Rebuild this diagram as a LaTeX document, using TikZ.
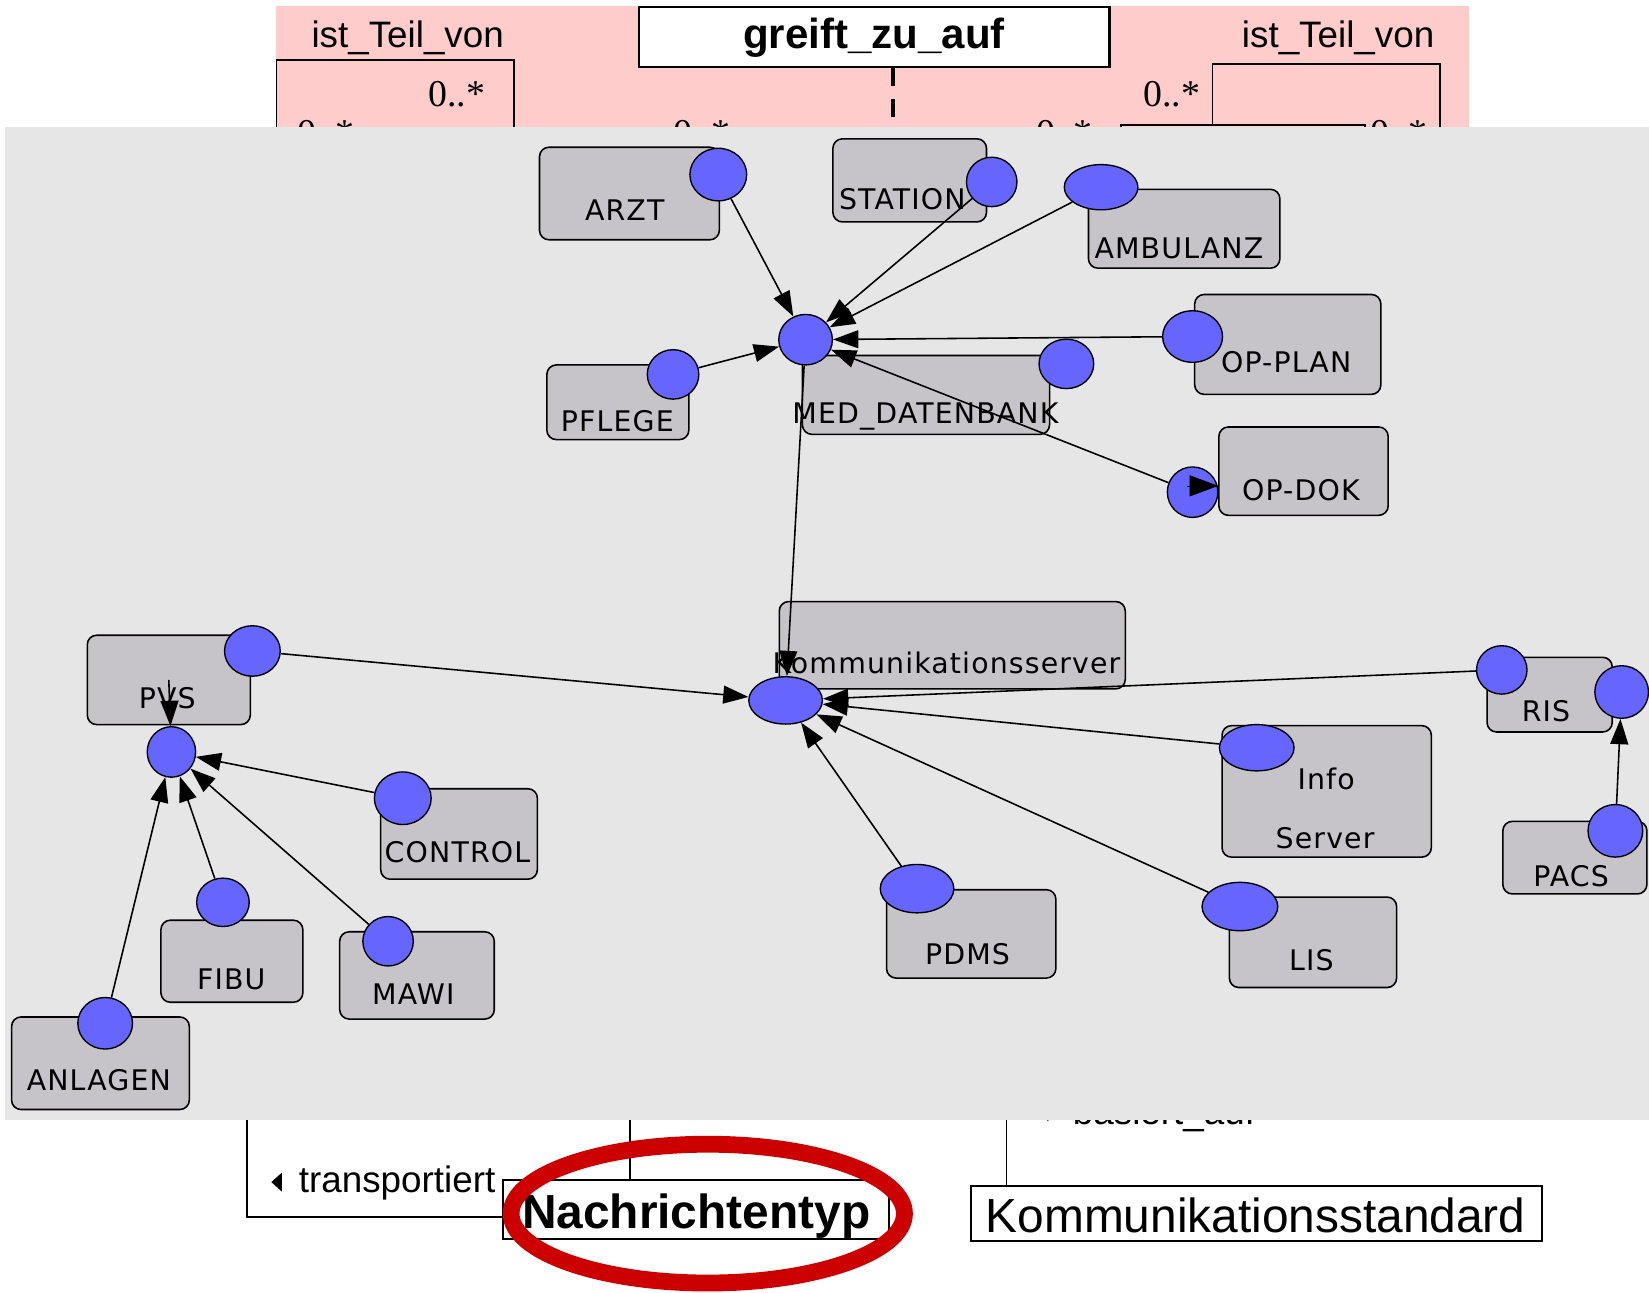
\documentclass[tikz,border=0pt]{standalone}
\usepackage{fontspec}
\setmainfont{Liberation Sans}
\newfontfamily\serifnum{Liberation Serif}
\newfontfamily\guifont[LetterSpace=4]{DejaVu Sans}
\usetikzlibrary{arrows.meta,shapes.geometric}

\definecolor{umlpink}{RGB}{255,204,204}
\definecolor{screengrey}{RGB}{230,230,230}
\definecolor{sysgrey}{RGB}{198,196,200}
\definecolor{portblue}{RGB}{102,102,255}
\definecolor{markred}{RGB}{204,0,0}

\begin{document}
\begin{tikzpicture}[x=1pt,y=-1pt,
  sysbox/.style={draw, line width=1.5pt, fill=sysgrey, rounded corners=9pt, inner sep=0pt},
  port/.style={ellipse, draw, line width=1.3pt, fill=portblue, inner sep=0pt},
  syslabel/.style={font=\guifont\fontsize{27}{32}\selectfont, anchor=base, inner sep=0pt},
  flow/.style={line width=1.5pt, -{Triangle[length=24pt,width=17pt]}},
  umlline/.style={line width=1.6pt},
  umlbox/.style={draw, line width=2pt, fill=white, inner sep=0pt},
  mult/.style={font=\serifnum\fontsize{36}{40}\selectfont, anchor=base west, inner sep=0pt},
  role/.style={font=\fontsize{35}{40}\selectfont, anchor=base west, inner sep=0pt},
]
\useasboundingbox (0,0) rectangle (1568,1229);
\fill[white] (0,0) rectangle (1568,1229);

% ---------- class diagram, upper part ----------
\fill[umlpink] (262,6) rectangle (1397,200);
\draw[umlline] (263,200) -- (263,57) -- (489,57) -- (489,200);
\draw[umlline] (1153,119) -- (1153,61) -- (1369,61) -- (1369,200);
\draw[umlline] (1066,200) -- (1066,119) -- (1298,119) -- (1298,200);
\node[role] (istl) at (296,45) {ist\_Teil\_von};
\node[role, anchor=base east] (istr) at (1364,45) {ist\_Teil\_von};
\node[umlbox, minimum width=447pt, minimum height=57pt] (greift) at (831.5,35.5) {};
\node[font=\bfseries\fontsize{40}{48}\selectfont, anchor=base, inner sep=0pt] (greiftlabel) at (831,46) {greift\_zu\_auf};
\coordinate (assocend) at (849,130);
\draw[line width=4.5pt, dash pattern=on 17pt off 12pt] (greift.south -| assocend) -- (assocend);
\node[mult] (m1) at (407,101) {0..*};
\node[mult] (m2) at (1087,101) {0..*};
\node[mult] (m3) at (283,138) {0..*};
\node[mult] (m4) at (640,138) {0..*};
\node[mult] (m5) at (985,138) {0..*};
\node[mult] (m6) at (1303,138) {0..*};

% ---------- class diagram, lower part ----------
\node[umlbox, minimum width=367pt, minimum height=56pt] (nachricht) at (661.5,1150) {};
\node[font=\bfseries\fontsize{45.5}{54}\selectfont, anchor=base, inner sep=0pt] (nachrichtlabel) at (662,1168) {Nachrichtentyp};
\node[umlbox, minimum width=543pt, minimum height=52pt] (kstd) at (1194.5,1154) {};
\node[font=\fontsize{45.5}{54}\selectfont, anchor=base west, inner sep=0pt] (kstdlabel) at (937,1172) {Kommunikationsstandard};
\coordinate (transtop) at (235,1060);
\coordinate (transcorner) at (235,1157);
\draw[umlline] (transtop) -- (transcorner) -- (transcorner -| nachricht.west);
\coordinate (nachtop) at (599,1060);
\draw[umlline] (nachtop) -- (nachricht.north -| nachtop);
\coordinate (kstdtop) at (957,1060);
\draw[umlline] (kstdtop) -- (kstd.north -| kstdtop);
\node[role] (transp) at (284,1134) {transportiert};
\fill (268,1115) -- (258,1124) -- (268,1133) -- cycle;
\node[role] (basiert) at (1020,1069) {basiert\_auf};
\fill (996,1050) -- (1006,1058) -- (996,1066) -- cycle;

% ---------- system landscape ----------
\fill[screengrey] (5,121) rectangle (1568,1065);

% application systems
\node[sysbox, minimum width=171pt, minimum height=88pt] (arzt) at (598.5,184) {};
\node[syslabel] (arzt-t) at (594,210) {ARZT};
\node[sysbox, minimum width=146pt, minimum height=79pt] (station) at (865,171.5) {};
\node[syslabel] (station-t) at (858,199) {STATION};
\node[sysbox, minimum width=182pt, minimum height=75pt] (ambulanz) at (1126,217.5) {};
\node[syslabel] (ambulanz-t) at (1121,246) {AMBULANZ};
\node[sysbox, minimum width=177pt, minimum height=95pt] (opplan) at (1224.5,327.5) {};
\node[syslabel] (opplan-t) at (1223,354) {OP-PLAN};
\node[sysbox, minimum width=235pt, minimum height=75pt] (meddb) at (880.5,375.5) {};
\node[syslabel] (meddb-t) at (880,403) {MED\_DATENBANK};
\node[sysbox, minimum width=135pt, minimum height=71pt] (pflege) at (587.5,382.5) {};
\node[syslabel] (pflege-t) at (587,410) {PFLEGE};
\node[sysbox, minimum width=161pt, minimum height=84pt] (opdok) at (1239.5,448) {};
\node[syslabel] (opdok-t) at (1237,476) {OP-DOK};
\node[sysbox, minimum width=329pt, minimum height=83pt] (komm) at (905.5,613.5) {};
\node[syslabel] (komm-t) at (900,640) {Kommunikationsserver};
\node[sysbox, minimum width=155pt, minimum height=85pt] (pvs) at (160.5,646.5) {};
\node[syslabel] (pvs-t) at (159,674) {PVS};
\node[sysbox, minimum width=149pt, minimum height=86pt] (control) at (436.5,793) {};
\node[syslabel] (control-t) at (435,820) {CONTROL};
\node[sysbox, minimum width=135pt, minimum height=78pt] (fibu) at (220.5,914) {};
\node[syslabel] (fibu-t) at (220,941) {FIBU};
\node[sysbox, minimum width=147pt, minimum height=83pt] (mawi) at (396.5,927.5) {};
\node[syslabel] (mawi-t) at (393,955) {MAWI};
\node[sysbox, minimum width=169pt, minimum height=88pt] (anlagen) at (95.5,1011) {};
\node[syslabel] (anlagen-t) at (94,1037) {ANLAGEN};
\node[sysbox, minimum width=161pt, minimum height=84pt] (pdms) at (923.5,888) {};
\node[syslabel] (pdms-t) at (920,917) {PDMS};
\node[sysbox, minimum width=159pt, minimum height=86pt] (lis) at (1248.5,896) {};
\node[syslabel] (lis-t) at (1247,923) {LIS};
\node[sysbox, minimum width=199pt, minimum height=125pt] (info) at (1261.5,752.5) {};
\node[syslabel] (info-t1) at (1261,751) {Info};
\node[syslabel] (info-t2) at (1260,807) {Server};
\node[sysbox, minimum width=119pt, minimum height=71pt] (ris) at (1473.5,660.5) {};
\node[syslabel] (ris-t) at (1470,686) {RIS};
\node[sysbox, minimum width=137pt, minimum height=69pt] (pacs) at (1497.5,815.5) {};
\node[syslabel] (pacs-t) at (1494,843) {PACS};

% communication ports
\node[port, minimum width=54pt, minimum height=50pt] (arztp) at (683,166) {};
\node[port, minimum width=48pt, minimum height=47pt] (stationp) at (943,173) {};
\node[port, minimum width=70pt, minimum height=43pt] (ambulanzp) at (1047,178) {};
\node[port, minimum width=57pt, minimum height=49pt] (opplanp) at (1134,320) {};
\node[port, minimum width=52pt, minimum height=47pt] (meddbp) at (1014,346) {};
\node[port, minimum width=49pt, minimum height=47pt] (pflegep) at (640,356) {};
\node[port, minimum width=51pt, minimum height=48pt] (medhub) at (766,323) {};
\node[port, minimum width=48pt, minimum height=48pt] (opdokp) at (1134,468) {};
\node[port, minimum width=70pt, minimum height=45pt] (kommhub) at (747,666) {};
\node[port, minimum width=53pt, minimum height=48pt] (pvsp) at (240,619) {};
\node[port, minimum width=46pt, minimum height=48pt] (pvshub) at (163,715) {};
\node[port, minimum width=54pt, minimum height=50pt] (controlp) at (383,759) {};
\node[port, minimum width=50pt, minimum height=46pt] (fibup) at (212,858) {};
\node[port, minimum width=48pt, minimum height=47pt] (mawip) at (369,895) {};
\node[port, minimum width=52pt, minimum height=49pt] (anlagenp) at (100,973) {};
\node[port, minimum width=70pt, minimum height=46pt] (pdmsp) at (872,845) {};
\node[port, minimum width=72pt, minimum height=46pt] (lisp) at (1179,862) {};
\node[port, minimum width=71pt, minimum height=44pt] (infop) at (1195,711) {};
\node[port, minimum width=48pt, minimum height=46pt] (risp) at (1428,637) {};
\node[port, minimum width=51pt, minimum height=50pt] (risp2) at (1542,658) {};
\node[port, minimum width=52pt, minimum height=50pt] (pacsp) at (1536,790) {};

% message flows
\draw[flow] (arztp) -- (medhub);
\draw[flow] (stationp) -- (medhub);
\draw[flow] (ambulanzp) -- (medhub);
\draw[flow] (opplanp) -- (medhub);
\draw[flow] (pflegep) -- (medhub);
\draw[flow] (opdokp) -- (medhub);
\coordinate (opdokin) at (1129,462);
\draw[-{Triangle[length=27pt,width=20pt]}] (opdokin) -- (opdokin -| opdok.west);
\draw[flow] (medhub) -- (kommhub);
\draw[flow] (pvsp) -- (kommhub);
\draw[flow] (infop) -- (kommhub);
\draw[flow] (risp) -- (kommhub);
\draw[flow] (pdmsp) -- (kommhub);
\draw[flow] (lisp) -- (kommhub);
\draw[flow] (pacsp) -- (risp2);
\draw[flow] (pvs.center) -- (pvshub);
\draw[flow] (controlp) -- (pvshub);
\draw[flow] (fibup) -- (pvshub);
\draw[flow] (mawip) -- (pvshub);
\draw[flow] (anlagenp) -- (pvshub);

% highlight
\draw[markred, line width=16pt] (673,1154) ellipse [x radius=187, y radius=66];
\end{tikzpicture}
\end{document}
